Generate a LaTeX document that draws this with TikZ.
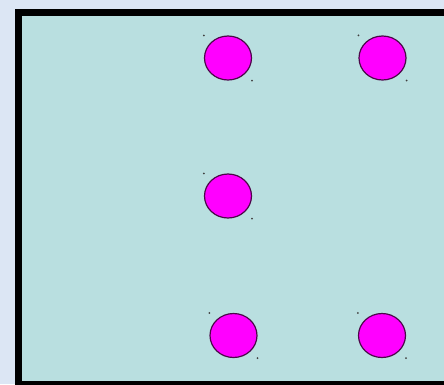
\documentclass[tikz,border=0pt]{standalone}
\usepackage{xcolor}
\usepackage{tikz}
\usetikzlibrary{shapes.geometric}

\definecolor{paperblue}{HTML}{DCE6F4}
\definecolor{boxcyan}{HTML}{B9DFE0}
\definecolor{dotpink}{HTML}{FF00FF}
\definecolor{dotedge}{HTML}{4A0848}

\begin{document}
\begin{tikzpicture}[
  x=1pt, y=-1pt,
  spot/.style={draw=dotedge, line width=1.2pt, fill=dotpink, ellipse, minimum width=47pt, minimum height=44pt, inner sep=0pt},
  handle/.style={fill=black!75, circle, inner sep=0pt, minimum size=2pt},
]
  % page and frame
  \useasboundingbox (0,0) rectangle (444,384);
  \clip (0,0) rectangle (444,384);
  \fill[paperblue] (0,0) rectangle (444,384);
  \draw[line width=7pt, fill=boxcyan] (18.5,12) rectangle (470,384.5);

  % spots
  \node[spot] (topleft) at (228,58) {};
  \node[spot] (topright) at (382.5,58) {};
  \node[spot] (middle) at (228,196) {};
  \node[spot] (bottomleft) at (233.5,335.5) {};
  \node[spot] (bottomright) at (382,335.5) {};

  % selection handles
  \foreach \s in {topleft,topright,middle,bottomleft,bottomright}{
    \node[handle] at (\s.west |- \s.north) {};
    \node[handle] at (\s.east |- \s.south) {};
  }
\end{tikzpicture}
\end{document}
